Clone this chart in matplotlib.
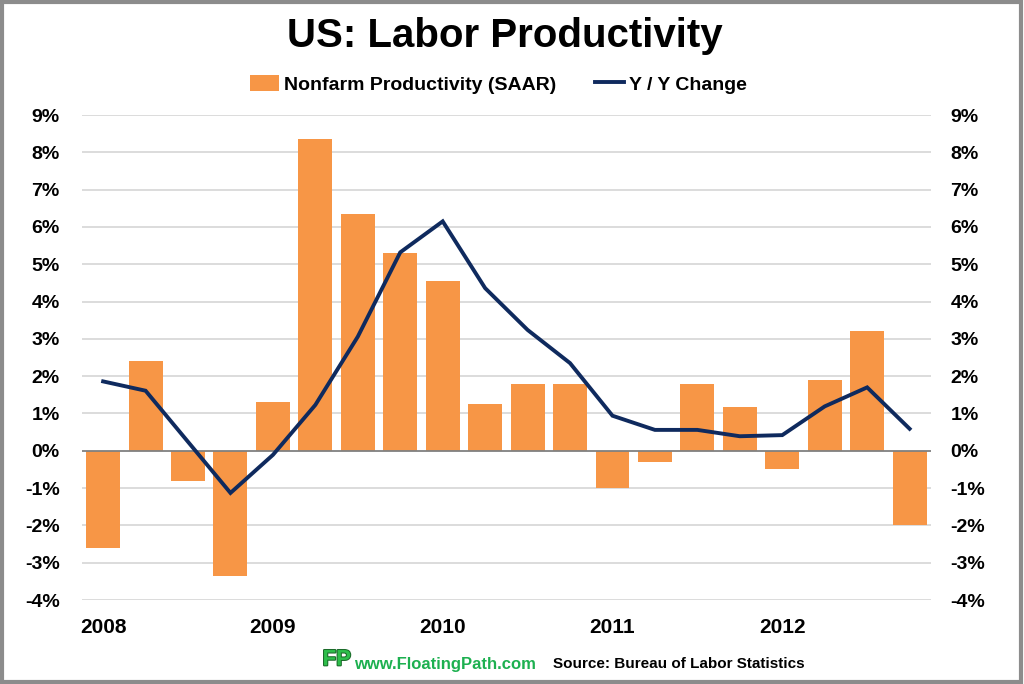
import matplotlib
matplotlib.use("Agg")
import matplotlib.pyplot as plt
import matplotlib.patheffects as pe
from matplotlib.patches import Patch, Rectangle
from matplotlib.lines import Line2D
import numpy as np

plt.rcParams['font.family'] = ['Liberation Sans', 'DejaVu Sans']
plt.rcParams['font.weight'] = 'bold'

# quarterly data 2008 Q1 .. 2012 Q4
quarters = ['2008 Q1', '2008 Q2', '2008 Q3', '2008 Q4',
            '2009 Q1', '2009 Q2', '2009 Q3', '2009 Q4',
            '2010 Q1', '2010 Q2', '2010 Q3', '2010 Q4',
            '2011 Q1', '2011 Q2', '2011 Q3', '2011 Q4',
            '2012 Q1', '2012 Q2', '2012 Q3', '2012 Q4']
saar = [-2.6, 2.4, -0.8, -3.35, 1.3, 8.35, 6.35, 5.3, 4.55, 1.25,
        1.8, 1.8, -1.0, -0.3, 1.78, 1.18, -0.5, 1.9, 3.2, -2.0]
yoy = [1.86, 1.61, 0.24, -1.13, -0.11, 1.23, 3.06, 5.32, 6.15, 4.36,
       3.24, 2.35, 0.94, 0.56, 0.56, 0.39, 0.42, 1.19, 1.70, 0.59]
year_labels = ['2008', '2009', '2010', '2011', '2012']
yticks = list(range(-4, 10))

orange = '#F79646'
navy = '#0F2A5E'

fig = plt.figure(figsize=(10.24, 6.84), dpi=100)
ax = fig.add_axes([0.080, 0.1228, 0.829, 0.709])

x = np.arange(len(quarters))
ax.bar(x, saar, width=0.8, color=orange, zorder=2)
ax.plot(x, yoy, color=navy, lw=2.8, zorder=3, solid_joinstyle='miter')

ax.set_xlim(-0.5, len(quarters) - 0.5)
ax.set_ylim(-4, 9)
ax.set_yticks(yticks)
ax.set_yticklabels([f'{v}%' for v in yticks])
ax.set_xticks(x[::4])
ax.set_xticklabels(year_labels)
ax.tick_params(axis='y', length=0, pad=16, labelsize=14)
ax.tick_params(axis='x', length=0, pad=13, labelsize=15)
for v in yticks:
    ax.axhline(v, color='#808080' if v == 0 else '#d9d9d9', lw=1.3, zorder=1 if v else 2.5)
for s in ax.spines.values():
    s.set_visible(False)

ax2 = ax.twinx()
ax2.set_ylim(ax.get_ylim())
ax2.set_yticks(yticks)
ax2.set_yticklabels([f'{v}%' for v in yticks])
ax2.tick_params(axis='y', length=0, pad=14, labelsize=14)
for s in ax2.spines.values():
    s.set_visible(False)

fig.text(0.493, 0.947, 'US: Labor Productivity', ha='center', va='center',
         fontsize=29, fontweight='bold')

handles = [Patch(facecolor=orange, edgecolor='none'),
           Line2D([0], [0], color=navy, lw=2.8)]
fig.legend(handles, ['Nonfarm Productivity (SAAR)', 'Y / Y Change'],
           loc='center', bbox_to_anchor=(0.487, 0.877), ncol=2, frameon=False,
           fontsize=14, handlelength=1.5, handleheight=0.9, handletextpad=0.25,
           columnspacing=2.0)

# footer
green = '#1DB050'
fig.text(0.315, 0.020, 'FP', fontsize=16, fontweight='bold', color='#2DBE4A',
         ha='left', va='bottom',
         path_effects=[pe.withStroke(linewidth=1.5, foreground='#1b6b2a')])
fig.text(0.346, 0.029, 'www.FloatingPath.com', fontsize=12, fontweight='bold',
         color=green, ha='left', va='center')
fig.text(0.540, 0.029, 'Source: Bureau of Labor Statistics', fontsize=11,
         fontweight='bold', color='black', ha='left', va='center')

fig.patches.append(Rectangle((0.002, 0.003), 0.995, 0.994, transform=fig.transFigure,
                             fill=False, edgecolor='#8c8c8c', lw=3))

fig.savefig('out.png', dpi=100, facecolor='white')
